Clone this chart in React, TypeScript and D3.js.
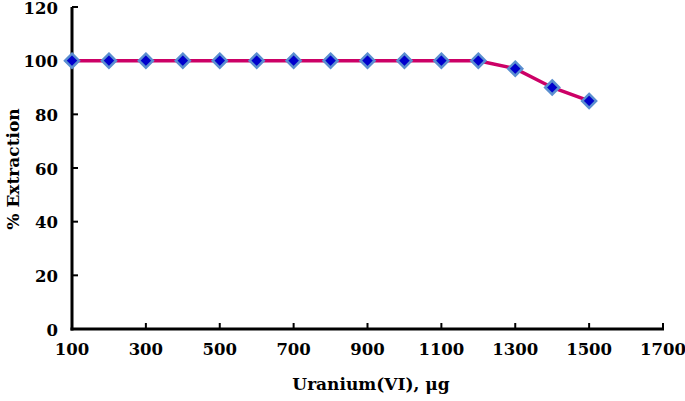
import React from "react";
import * as d3 from "d3";

const xValues = [100, 200, 300, 400, 500, 600, 700, 800, 900, 1000, 1100, 1200, 1300, 1400, 1500];
const yValues = [100, 100, 100, 100, 100, 100, 100, 100, 100, 100, 100, 100, 97, 90, 85];
const xTicks = [100, 300, 500, 700, 900, 1100, 1300, 1500, 1700];
const yTicks = [0, 20, 40, 60, 80, 100, 120];

export default function App() {
  const W = 685, H = 401;
  const x = d3.scaleLinear().domain([100, 1700]).range([72, 663]);
  const y = d3.scaleLinear().domain([0, 120]).range([329, 7]);
  const line = d3.line<number>().x((_, i) => x(xValues[i])).y((d) => y(d));
  const font = "'DejaVu Serif', 'Liberation Serif', serif";
  const diamond = (cx: number, cy: number, r: number) =>
    `M${cx},${cy - r}L${cx + r},${cy}L${cx},${cy + r}L${cx - r},${cy}Z`;
  return (
    <svg width={W} height={H} style={{ position: "absolute", left: 0, top: 0, background: "#fff" }}>
      <g fontFamily={font} fontWeight="bold" fontSize={16.5} fill="#000">
        <line x1={x(100)} x2={x(100)} y1={y(120)} y2={y(0) + 1.5} stroke="#000" strokeWidth={3} />
        <line x1={x(100) - 1.5} x2={x(1700) + 1} y1={y(0)} y2={y(0)} stroke="#000" strokeWidth={3} />
        {yTicks.map((t) => (
          <g key={"y" + t}>
            {t > 0 && <line x1={x(100)} x2={x(100) + 6} y1={y(t)} y2={y(t)} stroke="#000" strokeWidth={2} />}
            <text x={x(100) - 14} y={y(t) + 1} textAnchor="end" dominantBaseline="central">{t}</text>
          </g>
        ))}
        {xTicks.map((t) => (
          <g key={"x" + t}>
            {t > 100 && <line x1={x(t)} x2={x(t)} y1={y(0)} y2={y(0) - 6} stroke="#000" strokeWidth={2} />}
            <text x={x(t)} y={y(0) + 26} textAnchor="middle">{t}</text>
          </g>
        ))}
        <text x={371} y={390} textAnchor="middle" fontSize={17}>Uranium(VI), μg</text>
        <text transform={`translate(19,169) rotate(-90)`} textAnchor="middle" fontSize={17}>% Extraction</text>
      </g>
      <path d={line(yValues) || ""} fill="none" stroke="#CC0066" strokeWidth={3.5} />
      {yValues.map((v, i) => (
        <path key={i} d={diamond(x(xValues[i]), y(v), 7)} fill="#0000CC" stroke="#5B8FD0" strokeWidth={2.5} />
      ))}
    </svg>
  );
}
